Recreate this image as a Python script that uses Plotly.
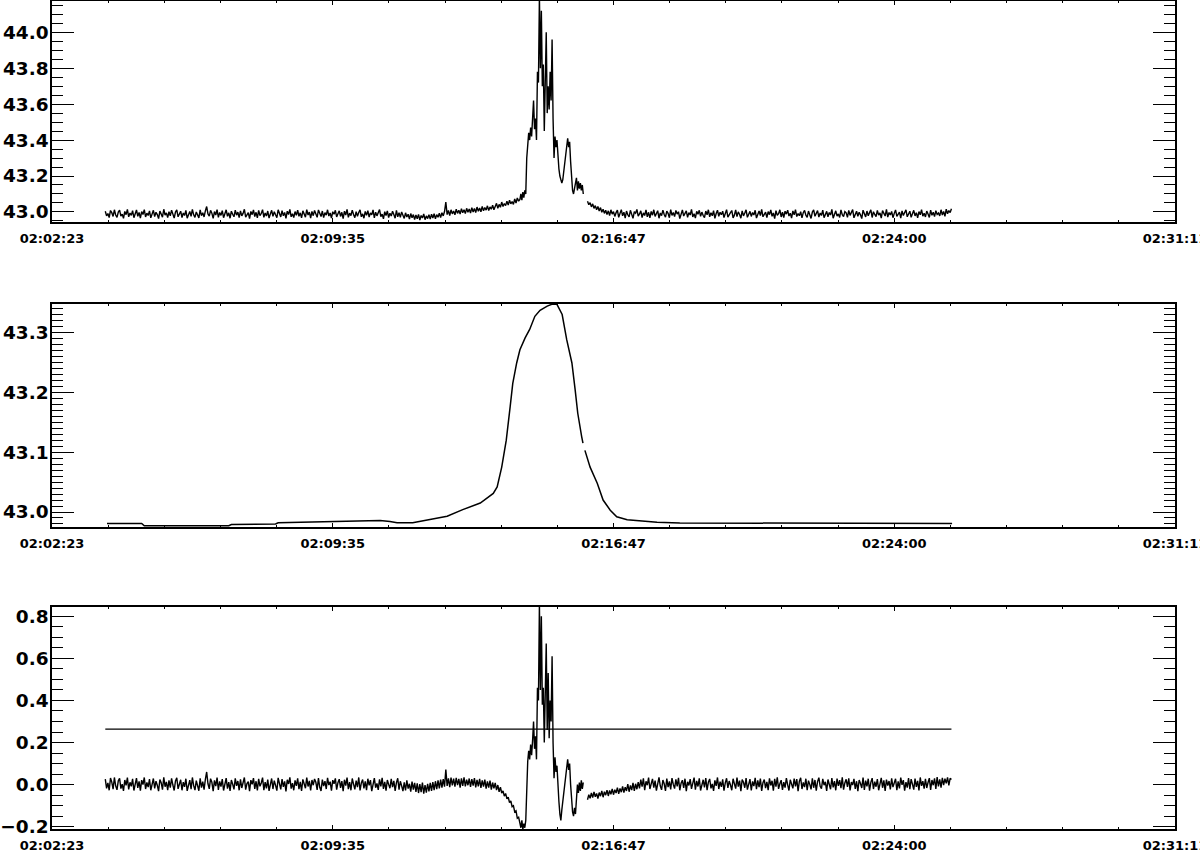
import plotly.graph_objects as go

# ---------------- data ----------------
# time axis: seconds after 02:02:23
TIME_TICKS_S = [0, 432, 864, 1296, 1728]
TIME_LABELS = ["02:02:23", "02:09:35", "02:16:47", "02:24:00", "02:31:11"]
MINOR_STEP_S = 86.4

# sampling of the noisy series (three stretches, data gap between B and C)
T_A_START, T_A_STEP = 82.0, 2.0
T_B_START, T_B_STEP = 720.0, 1.5
T_C_START, T_C_STEP = 824.0, 2.0

# panel 1 : raw signal
p1_a = [
43.004, 42.978, 42.991, 42.969, 43.008, 42.996, 42.975, 43.012, 42.983, 42.970,
42.999, 43.010, 42.977, 42.988, 42.964, 43.003, 42.985, 43.014, 42.973, 42.994,
42.981, 43.007, 42.968, 42.990, 43.011, 42.976, 42.997, 42.966, 43.002, 42.986,
43.013, 42.972, 42.993, 42.980, 43.006, 42.967, 42.989, 43.009, 42.974, 42.998,
42.985, 42.963, 43.005, 42.992, 42.971, 43.015, 42.982, 42.995, 42.968, 43.001,
42.978, 43.010, 42.987, 42.966, 42.999, 43.012, 42.973, 42.991, 43.004, 42.969,
42.994, 42.980, 43.008, 42.965, 42.988, 43.003, 42.975, 43.014, 42.984, 42.970,
43.000, 42.986, 42.967, 43.011, 42.979, 42.996, 42.972, 43.006, 43.030, 42.989,
42.977, 43.009, 42.993, 42.964, 43.002, 42.983, 43.013, 42.970, 42.997, 42.981,
43.007, 42.968, 42.990, 43.012, 42.976, 42.995, 42.965, 43.004, 42.987, 42.973,
43.010, 42.982, 42.999, 42.969, 43.006, 42.978, 42.992, 43.015, 42.971, 42.988,
42.996, 42.963, 43.003, 42.985, 43.011, 42.974, 42.998, 42.967, 43.008, 42.980,
42.991, 43.013, 42.970, 42.994, 42.977, 43.005, 42.966, 42.989, 43.009, 42.975,
43.001, 42.984, 42.968, 43.012, 42.993, 42.972, 43.007, 42.979, 42.997, 42.964,
43.004, 42.986, 43.014, 42.973, 42.990, 42.969, 43.002, 42.981, 43.010, 42.976,
42.995, 42.967, 43.006, 42.988, 42.971, 43.013, 42.983, 42.999, 42.965, 43.003,
42.979, 43.008, 42.992, 42.970, 43.011, 42.985, 42.974, 43.005, 42.968, 42.996,
42.982, 43.012, 42.977, 42.994, 42.966, 43.001, 42.987, 43.009, 42.972, 42.990,
43.006, 42.975, 42.998, 42.963, 43.004, 42.983, 43.014, 42.970, 42.993, 42.979,
43.010, 42.986, 42.968, 43.002, 42.976, 42.997, 43.012, 42.973, 42.989, 42.965,
43.003, 42.981, 43.007, 42.971, 42.995, 42.984, 43.011, 42.967, 42.999, 42.978,
42.992, 43.013, 42.974, 42.988, 42.962, 43.001, 42.980, 43.006, 42.969, 42.993,
42.977, 43.004, 42.986, 42.965, 43.009, 42.973, 42.996, 42.970, 43.000, 42.982,
42.964, 42.995, 42.972, 42.987, 42.960, 42.991, 42.968, 42.985, 42.958, 42.983,
42.962, 42.986, 42.955, 42.980, 42.966, 42.989, 42.957, 42.978, 42.963, 42.984,
42.960, 42.987, 42.966, 42.990, 42.962, 42.985, 42.970, 42.993, 42.968, 42.996,
42.978, 43.002, 43.055, 42.985, 43.008, 42.980, 43.012, 42.989, 43.005, 42.984,
43.015, 42.992, 43.010, 42.988, 43.018, 42.995, 43.012, 42.991, 43.020, 42.998,
43.016, 42.994, 43.024, 43.000, 43.019, 42.997, 43.027, 43.004, 43.022, 43.001,
43.030, 43.006, 43.025, 43.010, 43.034, 43.008, 43.028, 43.015, 43.038, 43.012,
43.032, 43.048, 43.020, 43.042, 43.026, 43.055, 43.030, 43.047, 43.035, 43.060,
43.038, 43.065, 43.045, 43.058, 43.042, 43.072, 43.050, 43.078, 43.060,
]
p1_b = [
43.070, 43.100, 43.065, 43.110, 43.080, 43.120, 43.100, 43.300, 43.380, 43.440,
43.400, 43.470, 43.420, 43.500, 43.620, 43.460, 43.520, 43.400, 43.780, 43.720,
44.200, 43.800, 44.120, 43.700, 43.820, 43.450, 43.760, 44.000, 43.550, 43.700,
43.570, 43.780, 43.620, 43.960, 43.520, 43.300, 43.420, 43.360, 43.400, 43.280,
43.240, 43.200, 43.180, 43.160, 43.180, 43.220, 43.260, 43.300, 43.360, 43.410,
43.360, 43.390, 43.280, 43.180, 43.120, 43.100, 43.130, 43.160, 43.190, 43.120,
43.170, 43.130, 43.160, 43.120, 43.150, 43.100,
]
p1_c = [
43.060, 43.040, 43.052, 43.028, 43.045, 43.020, 43.035, 43.012, 43.030, 43.005,
43.024, 42.998, 43.015, 42.992, 43.010, 42.985, 43.006, 42.980, 43.012, 42.988,
43.002, 42.975, 42.996, 43.010, 42.970, 42.991, 43.013, 42.978, 42.999, 42.966,
43.005, 42.984, 42.972, 43.009, 42.987, 42.964, 43.001, 42.993, 43.014, 42.976,
42.989, 43.006, 42.969, 42.995, 42.980, 43.011, 42.973, 42.998, 42.967, 43.003,
42.982, 43.012, 42.975, 42.990, 43.007, 42.965, 42.994, 42.979, 43.010, 42.986,
42.971, 43.004, 42.992, 42.968, 43.013, 42.981, 42.997, 42.974, 43.008, 42.988,
43.001, 42.963, 42.985, 43.011, 42.977, 42.993, 43.006, 42.970, 42.996, 42.983,
43.014, 42.972, 42.990, 42.966, 43.003, 42.987, 43.009, 42.975, 42.999, 42.980,
42.968, 43.005, 42.984, 43.012, 42.973, 42.995, 42.979, 43.007, 42.964, 42.991,
43.010, 42.976, 42.998, 42.985, 43.004, 42.969, 42.993, 43.013, 42.971, 42.988,
42.996, 43.008, 42.967, 42.982, 43.011, 42.974, 43.000, 42.986, 42.965, 43.006,
42.978, 42.994, 43.012, 42.970, 42.989, 43.003, 42.975, 42.997, 42.983, 43.009,
42.966, 42.992, 43.005, 42.980, 43.014, 42.973, 42.987, 42.999, 42.968, 43.002,
42.985, 43.011, 42.976, 42.994, 42.963, 43.007, 42.981, 42.990, 43.012, 42.972,
42.998, 42.969, 43.004, 42.988, 43.010, 42.977, 42.993, 42.966, 43.006, 42.984,
43.013, 42.974, 42.991, 42.979, 43.001, 42.967, 42.996, 43.009, 42.982, 42.970,
43.005, 42.987, 42.964, 42.999, 43.012, 42.976, 42.990, 43.007, 42.971, 42.994,
42.980, 43.010, 42.968, 42.986, 43.003, 42.973, 42.997, 42.983, 43.014, 42.965,
42.992, 43.006, 42.977, 42.989, 42.969, 43.011, 42.985, 42.974, 43.002, 42.995,
42.970, 43.008, 42.981, 42.993, 43.013, 42.967, 42.988, 43.004, 42.976, 42.998,
42.984, 42.963, 43.010, 42.991, 42.972, 43.005, 42.979, 42.996, 43.012, 42.969,
43.001, 42.986, 42.974, 43.009, 42.982, 42.995, 42.966, 43.007, 42.990, 42.977,
43.014, 42.971, 42.997, 42.983, 43.003, 42.968, 42.992, 43.011, 42.975, 42.988,
42.999, 42.965, 43.006, 42.980, 42.994, 43.012, 42.973, 42.987, 43.004, 42.970,
42.991, 43.009, 42.978, 42.996, 42.967, 43.002, 42.984, 43.013, 42.976, 42.993,
42.972, 43.005, 42.989, 42.969, 43.010, 42.981, 42.998, 42.974, 43.007, 42.986,
42.994, 42.978, 43.012, 42.983, 43.003, 42.975, 43.015, 42.990, 43.008, 42.996,
43.018,
]

# panel 2 : smoothed signal (time, value), None = data gap
p2_t = [84.6, 138, 142, 272, 276, 344, 348, 420, 470, 505, 520, 531, 555, 582,
        608, 632, 659, 679, 685, 692, 699, 705, 709, 715, 720, 728, 735, 743,
        751, 762, 769, 777, 785, 792, 800, 805, 809, 815, 817, None,
        820, 828, 839, 848, 859, 869, 885, 915, 931, 966, 1150, 1385]
p2_v = [42.981, 42.981, 42.977, 42.977, 42.979, 42.980, 42.982, 42.984, 42.986,
        42.986, 42.984, 42.982, 42.982, 42.987, 42.993, 43.004, 43.015, 43.031,
        43.042, 43.075, 43.120, 43.176, 43.215, 43.249, 43.271, 43.291, 43.305,
        43.327, 43.337, 43.344, 43.347, 43.347, 43.330, 43.288, 43.249, 43.204,
        43.165, 43.126, 43.115, None,
        43.103, 43.075, 43.048, 43.020, 43.003, 42.992, 42.987, 42.984, 42.983,
        42.9816, 42.981, 42.981]

# panel 3 : residual and threshold
p3_a = [
0.026, -0.018, 0.008, -0.027, 0.031, 0.012, -0.022, 0.034, -0.006, -0.025,
0.018, 0.030, -0.019, 0.002, -0.030, 0.022, -0.004, 0.033, -0.023, 0.011,
-0.008, 0.027, -0.028, 0.006, 0.031, -0.016, 0.015, -0.029, 0.021, 0.000,
0.034, -0.021, 0.010, -0.012, 0.026, -0.027, 0.004, 0.029, -0.018, 0.016,
-0.003, -0.031, 0.024, 0.009, -0.024, 0.035, -0.010, 0.013, -0.026, 0.020,
-0.014, 0.030, -0.002, -0.028, 0.017, 0.032, -0.020, 0.007, 0.023, -0.027,
0.012, -0.011, 0.028, -0.030, 0.003, 0.021, -0.022, 0.034, -0.005, -0.026,
0.019, -0.001, -0.029, 0.030, -0.014, 0.014, -0.024, 0.025, 0.060, 0.004,
-0.020, 0.028, 0.011, -0.031, 0.020, -0.007, 0.033, -0.025, 0.015, -0.010,
0.026, -0.028, 0.006, 0.031, -0.019, 0.012, -0.030, 0.022, 0.002, -0.023,
0.030, -0.006, 0.017, -0.027, 0.025, -0.016, 0.009, 0.034, -0.024, 0.005,
0.014, -0.031, 0.021, 0.001, 0.031, -0.020, 0.016, -0.028, 0.027, -0.008,
0.008, 0.033, -0.026, 0.012, -0.018, 0.024, -0.030, 0.006, 0.029, -0.021,
0.019, -0.004, -0.029, 0.032, 0.010, -0.023, 0.026, -0.011, 0.015, -0.032,
0.023, 0.003, 0.034, -0.019, 0.007, -0.027, 0.020, -0.006, 0.030, -0.022,
0.013, -0.030, 0.025, 0.005, -0.017, 0.033, -0.009, 0.018, -0.028, 0.022,
-0.003, 0.027, 0.011, -0.025, 0.031, -0.013, -0.030, 0.024, -0.007, 0.016,
-0.021, 0.032, -0.002, 0.014, -0.029, 0.021, 0.004, 0.030, -0.024, 0.009,
0.026, -0.016, 0.017, -0.031, 0.023, -0.005, 0.033, -0.022, 0.012, -0.027,
0.029, 0.002, -0.023, 0.019, -0.012, 0.034, -0.028, 0.008, 0.024, -0.018,
0.015, -0.026, 0.028, -0.004, 0.021, -0.031, 0.010, 0.031, -0.015, 0.006,
-0.025, 0.025, -0.009, 0.032, -0.020, 0.013, -0.029, 0.022, 0.001, -0.017,
0.027, -0.012, 0.018, -0.030, 0.009, 0.030, -0.024, 0.016, -0.006, -0.031,
0.011, -0.028, 0.020, -0.019, 0.004, -0.033, 0.014, -0.024, 0.008, -0.035,
0.006, -0.040, 0.002, -0.036, 0.010, -0.043, -0.002, -0.038, 0.004, -0.032,
0.008, -0.030, 0.012, -0.026, 0.016, -0.022, 0.020, -0.018, 0.024, -0.014,
0.026, -0.010, 0.072, -0.006, 0.030, -0.012, 0.033, -0.004, 0.028, -0.010,
0.032, -0.002, 0.027, -0.014, 0.030, -0.006, 0.035, -0.009, 0.024, -0.003,
0.029, -0.011, 0.026, -0.005, 0.031, -0.013, 0.022, -0.008, 0.027, -0.016,
0.020, -0.010, 0.024, -0.019, 0.015, -0.014, 0.019, -0.024, 0.010, -0.018,
0.008, -0.026, -0.002, -0.034, -0.012, -0.040, -0.030, -0.055, -0.042, -0.068,
-0.060, -0.085, -0.078, -0.105, -0.100, -0.130, -0.125, -0.160, -0.155,
]
p3_b = [
-0.180, -0.205, -0.170, -0.212, -0.185, -0.205, -0.170, 0.040, 0.110, 0.160,
0.120, 0.190, 0.140, 0.210, 0.300, 0.170, 0.230, 0.120, 0.460, 0.400,
0.860, 0.450, 0.800, 0.380, 0.460, 0.200, 0.420, 0.670, 0.260, 0.530,
0.220, 0.400, 0.300, 0.610, 0.200, 0.030, 0.130, 0.060, 0.090, -0.020,
-0.080, -0.140, -0.170, -0.120, -0.080, -0.030, 0.020, 0.050, 0.090, 0.120,
0.070, 0.100, 0.000, -0.080, -0.130, -0.150, -0.110, -0.140, -0.030, 0.000,
-0.040, 0.010, -0.030, 0.020, -0.020, 0.010,
]
p3_c = [
-0.072, -0.048, -0.065, -0.040, -0.062, -0.035, -0.058, -0.042, -0.066, -0.038,
-0.055, -0.030, -0.060, -0.034, -0.050, -0.026, -0.054, -0.028, -0.046, -0.020,
-0.048, -0.024, -0.040, -0.014, -0.044, -0.018, -0.036, -0.008, -0.038, -0.012,
-0.030, 0.002, -0.034, -0.004, -0.026, 0.008, -0.030, 0.004, -0.022, 0.012,
-0.018, 0.024, -0.010, 0.030, -0.026, 0.016, -0.003, 0.033, -0.021, 0.009,
0.027, -0.014, 0.019, -0.029, 0.011, 0.034, -0.007, -0.025, 0.022, 0.004,
-0.030, 0.029, -0.012, 0.015, -0.023, 0.031, 0.001, -0.019, 0.025, -0.008,
0.032, -0.027, 0.007, 0.021, -0.016, 0.028, -0.031, 0.013, -0.004, 0.026,
-0.020, 0.010, 0.033, -0.024, 0.018, -0.009, 0.030, -0.028, 0.005, 0.023,
-0.013, 0.031, -0.026, 0.012, 0.027, -0.018, 0.003, -0.030, 0.020, -0.006,
0.034, -0.021, 0.014, -0.011, 0.025, -0.029, 0.008, 0.030, -0.016, 0.017,
-0.002, -0.027, 0.028, 0.006, -0.019, 0.033, -0.010, 0.019, -0.031, 0.024,
0.011, -0.015, 0.031, -0.024, 0.002, 0.026, -0.028, 0.015, -0.007, 0.032,
-0.022, 0.020, -0.012, 0.029, -0.030, 0.009, 0.024, -0.017, 0.013, -0.026,
0.030, -0.004, 0.018, -0.029, 0.027, -0.010, 0.034, -0.020, 0.004, 0.021,
-0.025, 0.012, -0.014, 0.031, -0.001, -0.028, 0.023, 0.007, -0.018, 0.029,
-0.009, 0.026, -0.031, 0.016, 0.032, -0.021, 0.010, -0.012, 0.028, -0.026,
0.019, 0.001, -0.023, 0.030, -0.015, 0.022, -0.029, 0.014, 0.033, -0.008,
-0.019, 0.027, -0.003, 0.013, -0.030, 0.024, 0.006, -0.022, 0.031, -0.013,
0.017, -0.027, 0.029, -0.006, 0.021, -0.017, 0.035, -0.024, 0.008, 0.025,
-0.011, 0.030, -0.028, 0.012, -0.002, 0.027, -0.020, 0.016, -0.031, 0.022,
0.005, -0.016, 0.033, -0.025, 0.019, -0.008, 0.028, -0.029, 0.011, 0.031,
-0.021, 0.014, -0.010, 0.026, -0.027, 0.003, 0.032, -0.015, 0.020, -0.030,
0.024, -0.005, 0.017, -0.023, 0.030, -0.012, 0.009, 0.028, -0.026, 0.015,
-0.018, 0.033, -0.001, 0.021, -0.029, 0.012, -0.014, 0.031, -0.022, 0.026,
0.002, -0.024, 0.029, -0.011, 0.018, -0.028, 0.034, -0.006, 0.016, -0.019,
0.027, -0.016, 0.010, 0.031, -0.025, 0.022, -0.003, 0.030, -0.020, 0.036,
-0.008, 0.025, -0.015, 0.032, -0.002, 0.028, 0.006, 0.034, -0.004, 0.030,
0.024,
]
THRESHOLD = 0.264

# axis ranges / ticks per panel
Y1_RANGE, Y1_DTICK, Y1_MINOR = [42.944, 44.174], 0.2, 0.05
Y2_RANGE, Y2_DTICK, Y2_MINOR = [42.9749, 43.3476], 0.1, 0.01
Y3_RANGE, Y3_DTICK, Y3_MINOR = [-0.211, 0.844], 0.2, 0.05
X_RANGE = [0, 1728]

# ---------------- build series ----------------
tA = [T_A_START + T_A_STEP * k for k in range(len(p1_a))]
tB = [T_B_START + T_B_STEP * k for k in range(len(p1_b))]
tC = [T_C_START + T_C_STEP * k for k in range(len(p1_c))]
t_all = tA + tB + [None] + tC
p1_all = p1_a + p1_b + [None] + p1_c
p3_all = p3_a + p3_b + [None] + p3_c

LINE = dict(color="black", width=1.4)
fig = go.Figure()
fig.add_trace(go.Scatter(x=t_all, y=p1_all, mode="lines", line=LINE,
                         connectgaps=False, xaxis="x", yaxis="y"))
fig.add_trace(go.Scatter(x=p2_t, y=p2_v, mode="lines", line=dict(color="black", width=1.5),
                         connectgaps=False, xaxis="x2", yaxis="y2"))
fig.add_trace(go.Scatter(x=t_all, y=p3_all, mode="lines", line=LINE,
                         connectgaps=False, xaxis="x3", yaxis="y3"))
fig.add_trace(go.Scatter(x=[tA[0], tC[-1]], y=[THRESHOLD, THRESHOLD],
                         mode="lines", line=dict(color="black", width=1.3),
                         xaxis="x3", yaxis="y3"))

XFONT = dict(family="DejaVu Sans", size=13, color="black", weight="bold")
YFONT = dict(family="DejaVu Sans", size=18.5, color="black", weight="bold")


def xax(anchor):
    return dict(anchor=anchor, domain=[0, 1], range=X_RANGE, automargin=False,
                tickmode="array", tickvals=TIME_TICKS_S, ticktext=TIME_LABELS,
                ticks="inside", ticklen=4, tickwidth=1, tickcolor="black",
                minor=dict(ticks="inside", ticklen=2, tickwidth=1, tickcolor="black",
                           tickmode="linear", tick0=0, dtick=MINOR_STEP_S),
                showline=True, linecolor="black", linewidth=1.5, mirror="allticks",
                showgrid=False, zeroline=False, tickfont=XFONT,
                ticklabeloverflow="allow", ticklabelstandoff=4)


def yax(anchor, dom, rng, dtick, minor, tick0):
    return dict(anchor=anchor, domain=dom, range=rng, automargin=False,
                tickmode="linear", tick0=tick0, dtick=dtick, tickformat=".1f",
                ticks="inside", ticklen=22, tickwidth=1.3, tickcolor="black",
                minor=dict(ticks="inside", ticklen=11, tickwidth=1.3, tickcolor="black",
                           tickmode="linear", tick0=tick0, dtick=minor),
                showline=True, linecolor="black", linewidth=1.5, mirror="allticks",
                showgrid=False, zeroline=False, tickfont=YFONT,
                ticklabeloverflow="allow", ticklabelstandoff=-2)


fig.update_layout(
    width=1200, height=851,
    margin=dict(l=52, r=25, t=1, b=22, pad=0),
    paper_bgcolor="white", plot_bgcolor="white",
    showlegend=False,
    xaxis=xax("y"), xaxis2=xax("y2"), xaxis3=xax("y3"),
    yaxis=yax("x", [0.7331, 1.0], Y1_RANGE, Y1_DTICK, Y1_MINOR, 43.0),
    yaxis2=yax("x2", [0.3647, 0.6341], Y2_RANGE, Y2_DTICK, Y2_MINOR, 43.0),
    yaxis3=yax("x3", [0.0, 0.2681], Y3_RANGE, Y3_DTICK, Y3_MINOR, 0.0),
)

fig.write_html("out.html",
               config={"displayModeBar": False},
               post_script="document.body.style.margin='0px';"
                           "document.body.style.overflow='hidden';")
